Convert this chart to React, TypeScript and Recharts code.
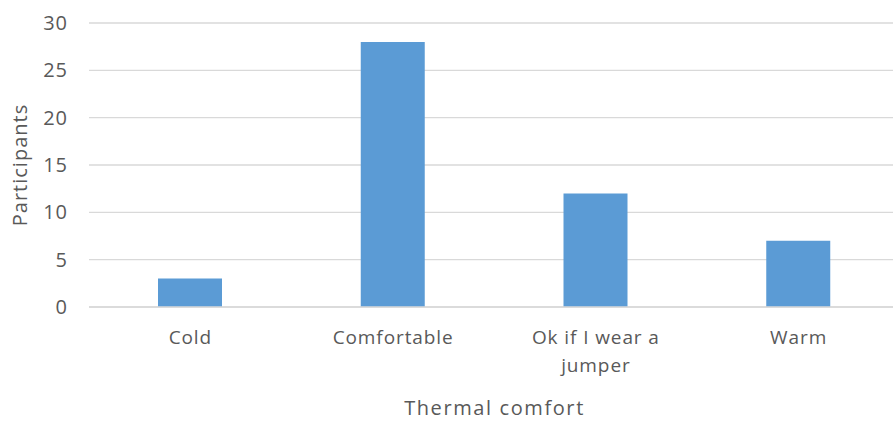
import React from "react";
import { BarChart, Bar, XAxis, YAxis, CartesianGrid } from "recharts";

const categories = ["Cold", "Comfortable", "Ok if I wear a jumper", "Warm"];
const participants = [3, 28, 12, 7];
const yTicks = [0, 5, 10, 15, 20, 25, 30];
const xTitle = "Thermal comfort";
const yTitle = "Participants";

const data = categories.map((c, i) => ({ name: c, value: participants[i] }));

const FONT = "'Open Sans', sans-serif";
const TEXT = "#595959";

function wrap(s: string, max: number): string[] {
  const words = s.split(" ");
  const lines: string[] = [];
  let cur = "";
  for (const w of words) {
    const t = cur ? cur + " " + w : w;
    if (t.length > max && cur) {
      lines.push(cur);
      cur = w;
    } else cur = t;
  }
  if (cur) lines.push(cur);
  return lines;
}

const XTick = (props: any) => {
  const { x, y, payload } = props;
  const lines = wrap(String(payload.value), 14);
  return (
    <text x={x} y={y} textAnchor="middle" fill={TEXT} fontFamily={FONT} fontSize={19} letterSpacing={0.9}>
      {lines.map((l, i) => (
        <tspan key={i} x={x} dy={i === 0 ? 37 : 28}>
          {l}
        </tspan>
      ))}
    </text>
  );
};

export default function App() {
  return (
    <div style={{ position: "absolute", left: 0, top: 0, width: 893, height: 423, overflow: "hidden", background: "#fff" }}>
      <BarChart
        width={900}
        height={423}
        data={data}
        margin={{ top: 23, right: 0, bottom: 0, left: 0 }}
        barSize={64}
      >
        <CartesianGrid vertical={false} stroke="#D9D9D9" strokeWidth={1.3} />
        <XAxis
          dataKey="name"
          height={116}
          tickLine={false}
          tickSize={0}
          tickMargin={0}
          axisLine={{ stroke: "#D9D9D9", strokeWidth: 1.3 }}
          tick={<XTick />}
          interval={0}
          label={{
            content: ({ viewBox }: any) => (
              <text
                x={viewBox.x + viewBox.width / 2}
                y={415}
                textAnchor="middle"
                fill={TEXT}
                fontFamily={FONT}
                fontSize={20}
                letterSpacing={1.6}
              >
                {xTitle}
              </text>
            ),
          }}
        />
        <YAxis
          width={89}
          domain={[0, 30]}
          ticks={yTicks}
          interval={0}
          axisLine={false}
          tickLine={false}
          tickMargin={15}
          tick={{ fill: TEXT, fontFamily: FONT, fontSize: 20, letterSpacing: 1 }}
          label={{
            content: ({ viewBox }: any) => (
              <text
                x={27}
                y={viewBox.y + viewBox.height / 2}
                transform={`rotate(-90 27 ${viewBox.y + viewBox.height / 2})`}
                textAnchor="middle"
                fill={TEXT}
                fontFamily={FONT}
                fontSize={20}
                letterSpacing={1}
              >
                {yTitle}
              </text>
            ),
          }}
        />
        <Bar dataKey="value" fill="#5B9BD5" isAnimationActive={false} />
      </BarChart>
    </div>
  );
}
